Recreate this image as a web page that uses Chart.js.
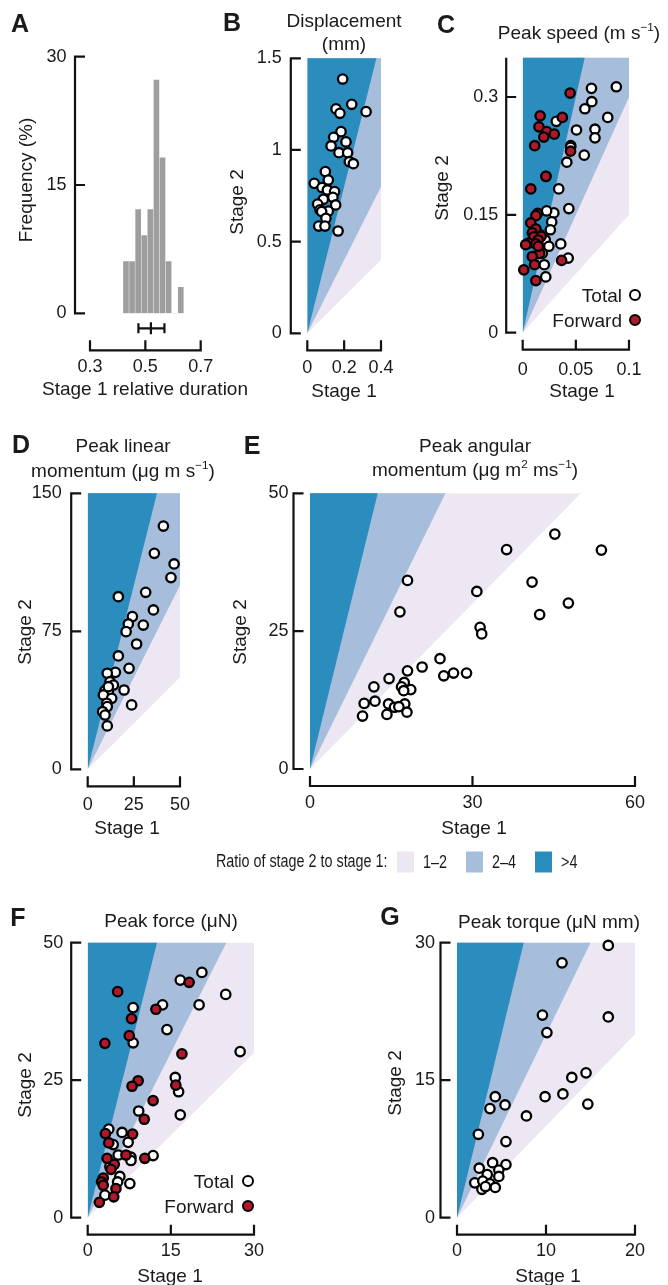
<!DOCTYPE html>
<html>
<head>
<meta charset="utf-8">
<script src="https://cdn.jsdelivr.net/npm/chart.js@4.4.1/dist/chart.umd.min.js"></script>
<style>
body { margin: 0; background: #fff; }
#fig { position: relative; width: 668px; height: 1285px; overflow: hidden; font-family: "Liberation Sans", Arial, sans-serif; color: #1a1a1a; }
#fig canvas { position: absolute; left: 0; top: 0; }
.t { position: absolute; transform: translate(-50%, -50%); white-space: nowrap; font-size: 19px; line-height: 1; }
.rot { width: 140px; height: 20px; line-height: 20px; text-align: center; transform: translate(-70px, -10px) rotate(-90deg); }
.r { position: absolute; transform: translate(-100%, -50%); white-space: nowrap; font-size: 19px; line-height: 1; }
.lt { position: absolute; transform: translate(-50%, -50%); font-weight: bold; font-size: 25px; line-height: 1; }
.dot { position: absolute; width: 8px; height: 8px; border: 2.3px solid #000; border-radius: 50%; transform: translate(-50%, -50%); }
.sw { position: absolute; width: 17px; height: 21px; transform: translateY(-50%); }
sup { font-size: 0.62em; line-height: 0; vertical-align: 0.6em; }
#ratio { position: absolute; left: 216px; top: 862px; transform: translateY(-50%) scaleX(0.82); transform-origin: left center; font-size: 17.5px; white-space: nowrap; line-height: 1; }
.lg { position: absolute; transform: translateY(-50%) scaleX(0.82); transform-origin: left center; font-size: 17.5px; white-space: nowrap; line-height: 1; }
</style>
</head>
<body>
<div id="fig">
  <canvas id="chA" width="668" height="1285"></canvas>
  <canvas id="chB" width="668" height="1285"></canvas>
  <canvas id="chC" width="668" height="1285"></canvas>
  <canvas id="chD" width="668" height="1285"></canvas>
  <canvas id="chE" width="668" height="1285"></canvas>
  <canvas id="chF" width="668" height="1285"></canvas>
  <canvas id="chG" width="668" height="1285"></canvas>

  <div class="lt" style="left:20px;top:23px">A</div>
  <div class="lt" style="left:232px;top:22px">B</div>
  <div class="lt" style="left:446px;top:24px">C</div>
  <div class="lt" style="left:21px;top:444px">D</div>
  <div class="lt" style="left:252px;top:445px">E</div>
  <div class="lt" style="left:18px;top:917px">F</div>
  <div class="lt" style="left:390px;top:916px">G</div>

  <div class="t" style="left:344px;top:20px">Displacement</div>
  <div class="t" style="left:344px;top:43px">(mm)</div>
  <div class="t" style="left:579px;top:32px">Peak speed (m s<sup>−1</sup>)</div>
  <div class="t" style="left:123px;top:445px">Peak linear</div>
  <div class="t" style="left:123px;top:470px">momentum (μg m s<sup>−1</sup>)</div>
  <div class="t" style="left:475px;top:445px">Peak angular</div>
  <div class="t" style="left:475px;top:469px">momentum (μg m<sup>2</sup> ms<sup>−1</sup>)</div>
  <div class="t" style="left:171px;top:920px">Peak force (μN)</div>
  <div class="t" style="left:549px;top:921px">Peak torque (μN mm)</div>

  <div class="t rot" style="left:26px;top:180px">Frequency (%)</div>
  <div class="t" style="left:145px;top:388px">Stage 1 relative duration</div>
  <div class="t rot" style="left:237px;top:202px">Stage 2</div>
  <div class="t" style="left:344px;top:390px">Stage 1</div>
  <div class="t rot" style="left:442px;top:188px">Stage 2</div>
  <div class="t" style="left:582px;top:390px">Stage 1</div>
  <div class="t rot" style="left:25px;top:632px">Stage 2</div>
  <div class="t" style="left:127px;top:827px">Stage 1</div>
  <div class="t rot" style="left:240px;top:632px">Stage 2</div>
  <div class="t" style="left:474px;top:827px">Stage 1</div>
  <div class="t rot" style="left:25px;top:1085px">Stage 2</div>
  <div class="t" style="left:170px;top:1275px">Stage 1</div>
  <div class="t rot" style="left:395px;top:1083px">Stage 2</div>
  <div class="t" style="left:548px;top:1275px">Stage 1</div>

  <div class="r" style="left:622px;top:295px">Total</div>
  <div class="dot" style="left:635px;top:295px;background:#fff"></div>
  <div class="r" style="left:622px;top:320px">Forward</div>
  <div class="dot" style="left:635px;top:320px;background:#b2182b"></div>
  <div class="r" style="left:234px;top:1181px">Total</div>
  <div class="dot" style="left:248px;top:1181px;background:#fff"></div>
  <div class="r" style="left:234px;top:1206px">Forward</div>
  <div class="dot" style="left:248px;top:1206px;background:#b2182b"></div>

  <div id="ratio">Ratio of stage 2 to stage 1:</div>
  <div class="sw" style="left:397px;top:862px;background:#ece7f2"></div>
  <div class="lg" style="left:423px;top:863px">1–2</div>
  <div class="sw" style="left:466px;top:862px;background:#a6bddb"></div>
  <div class="lg" style="left:492px;top:863px">2–4</div>
  <div class="sw" style="left:535px;top:862px;background:#2b8cbe"></div>
  <div class="lg" style="left:561px;top:863px">&gt;4</div>
</div>

<script>
const W = 668, H = 1285;
const ink = '#1a1a1a';
const family = '"Liberation Sans", Arial, sans-serif';
const bandColors = ['#ece7f2', '#a6bddb', '#2b8cbe'];
const red = '#b2182b';

// A: histogram of stage 1 relative duration
const durBins = [0.43, 0.452, 0.474, 0.496, 0.518, 0.54, 0.562, 0.584, 0.606, 0.628];
const durFreq = [6.06, 6.06, 12.12, 9.09, 12.12, 27.27, 18.18, 6.06, 0, 3.03];
const durMean = 0.52, durLow = 0.475, durHigh = 0.569;

// ratio bands (stage 2 / stage 1)
const bandsStd = [1, 2, 4];
const bandsSpeed = [1.5, 3, 6];

// B: displacement (mm)
const dispPts = [[0.192,1.387],[0.241,1.249],[0.319,1.209],[0.156,1.224],[0.177,1.2],[0.183,1.1],[0.143,1.069],[0.210,1.044],[0.129,1.022],[0.172,0.985],[0.219,0.985],[0.228,0.936],[0.250,0.925],[0.098,0.882],[0.114,0.836],[0.038,0.818],[0.080,0.795],[0.109,0.782],[0.148,0.773],[0.139,0.742],[0.087,0.731],[0.056,0.705],[0.154,0.7],[0.069,0.673],[0.114,0.667],[0.078,0.664],[0.101,0.627],[0.062,0.585],[0.096,0.585],[0.167,0.558]];

// C: peak speed
const speedTotal = [[0.0647,0.311],[0.0881,0.313],[0.065,0.294],[0.0585,0.285],[0.080,0.274],[0.0316,0.269],[0.0506,0.258],[0.068,0.259],[0.068,0.248],[0.0452,0.238],[0.0579,0.226],[0.0415,0.217],[0.0339,0.183],[0.022,0.199],[0.0434,0.158],[0.0293,0.1525],[0.0225,0.155],[0.0273,0.141],[0.026,0.131],[0.0212,0.118],[0.0246,0.110],[0.0358,0.113],[0.0184,0.101],[0.0428,0.095],[0.0203,0.0865],[0.0217,0.071],[0.0141,0.114],[0.016,0.125],[0.045,0.236]];
const speedForward = [[0.0446,0.305],[0.0164,0.276],[0.0373,0.274],[0.0153,0.262],[0.0226,0.256],[0.0297,0.2527],[0.0198,0.249],[0.0113,0.238],[0.045,0.231],[0.0218,0.199],[0.0076,0.183],[0.014,0.152],[0.0124,0.149],[0.0076,0.1397],[0.0124,0.132],[0.009,0.127],[0.0105,0.122],[0.0174,0.1226],[0.0146,0.118],[0.0056,0.114],[0.0028,0.112],[0.0124,0.113],[0.016,0.101],[0.009,0.097],[0.0366,0.092],[0.001,0.080],[0.0112,0.0865],[0.0124,0.0664],[0.0147,0.110]];

// D: peak linear momentum
const linMomPts = [[41.0,132.2],[36.1,117.4],[46.8,111.6],[45.1,104.2],[31.4,96.2],[16.6,93.8],[35.6,86.6],[24.2,83.0],[22.0,79.0],[30.1,78.4],[20.8,74.8],[26.5,68.1],[16.6,61.6],[15.0,52.7],[10.6,52.2],[22.4,54.9],[12.1,47.6],[13.9,45.8],[19.7,43.1],[9.4,42.8],[11.2,42.2],[8.5,40.4],[13.0,38.6],[23.8,35.0],[10.3,35.9],[10.6,34.1],[8.1,31.3],[9.4,29.5],[10.6,23.6],[11.2,44.9]];

// E: peak angular momentum
const angMomPts = [[45.2,42.6],[36.3,39.8],[53.8,39.7],[18.0,34.2],[41.0,33.9],[30.8,32.2],[47.7,30.1],[16.6,28.5],[42.4,28.0],[31.4,25.7],[31.7,24.5],[24.0,20.0],[20.7,18.5],[18.0,17.8],[24.7,16.9],[26.5,17.4],[28.9,17.4],[14.6,16.4],[17.4,15.7],[16.9,14.9],[18.6,14.4],[11.8,14.9],[17.3,14.2],[12.0,12.3],[10.0,11.9],[14.5,11.8],[17.5,11.8],[15.6,11.2],[16.4,11.3],[14.2,9.9],[17.9,10.3],[9.7,9.6]];

// F: peak force
const forceTotal = [[20.6,44.6],[16.7,43.2],[24.9,40.6],[8.2,38.2],[13.5,38.7],[20.1,38.7],[14.3,34.2],[8.2,31.8],[27.5,30.2],[15.8,25.5],[16.4,22.9],[16.7,18.7],[9.2,19.4],[11.8,11.3],[3.8,16.1],[6.2,15.5],[7.3,13.7],[4.6,13.3],[7.8,11.0],[7.8,10.4],[5.5,11.4],[7.6,6.2],[5.8,7.5],[5.4,6.5],[3.1,4.1],[4.0,9.3]];
const forceForward = [[18.3,42.8],[5.4,41.1],[12.3,37.9],[7.9,36.2],[7.5,33.1],[3.1,31.7],[17.0,29.8],[9.1,24.9],[8.0,23.9],[15.9,24.1],[11.8,21.3],[10.2,17.9],[3.2,15.3],[8.1,15.2],[3.8,13.6],[6.9,11.4],[10.3,10.8],[3.5,10.8],[4.8,9.7],[4.2,8.8],[2.8,7.2],[2.5,6.5],[2.8,5.9],[5.1,5.3],[4.7,3.8],[2.1,2.8]];

// G: peak torque
const torquePts = [[17.0,29.7],[11.8,27.8],[9.6,22.1],[17.0,21.9],[10.1,20.2],[14.5,15.8],[12.9,15.3],[4.3,13.2],[9.9,13.2],[11.9,13.5],[3.7,11.9],[5.4,12.3],[14.7,12.4],[7.8,11.1],[2.4,9.1],[5.5,8.3],[5.5,5.8],[4.0,6.0],[2.5,5.4],[4.7,5.2],[3.4,4.7],[4.7,4.5],[2.0,3.8],[2.9,4.0],[3.7,3.7],[4.3,3.3],[2.8,3.1],[3.2,3.4]];

// draws ratio wedges behind the points, detached axes with inward ticks in front
const panelDecor = {
  id: 'panelDecor',
  beforeDatasetsDraw(chart, args, o) {
    if (!o.bands) return;
    const {ctx, chartArea: a, scales: {x, y}} = chart;
    const xm = x.max, ym = y.max;
    const far = r => {
      const t = Math.max(10 * xm, 10 * ym / r);
      return [x.getPixelForValue(t), y.getPixelForValue(r * t)];
    };
    const org = [x.getPixelForValue(0), y.getPixelForValue(0)];
    const top = [x.getPixelForValue(0), y.getPixelForValue(10 * ym)];
    ctx.save();
    ctx.beginPath();
    ctx.rect(a.left, a.top, a.right - a.left, a.bottom - a.top);
    ctx.clip();
    o.bands.forEach((r, i) => {
      const p = far(r);
      ctx.fillStyle = bandColors[i];
      ctx.beginPath();
      ctx.moveTo(org[0], org[1]);
      ctx.lineTo(p[0], p[1]);
      ctx.lineTo(top[0], top[1]);
      ctx.closePath();
      ctx.fill();
    });
    ctx.restore();
  },
  afterDraw(chart, args, o) {
    const {ctx, chartArea: a, scales: {x, y}} = chart;
    const lw = 2.2, tl = 10;
    const ax = a.left - o.yOff, ay = a.bottom + o.xOff;
    ctx.save();
    ctx.strokeStyle = '#111';
    ctx.lineWidth = lw;
    ctx.beginPath();
    const yt = o.yTicks;
    const yb = y.getPixelForValue(yt[0]);
    const ytop = y.getPixelForValue(o.yTop != null ? o.yTop : yt[yt.length - 1]);
    ctx.moveTo(ax, yb + lw / 2);
    ctx.lineTo(ax, ytop - (o.yTop != null ? 0 : lw / 2));
    yt.forEach(v => {
      const p = y.getPixelForValue(v);
      ctx.moveTo(ax, p);
      ctx.lineTo(ax + tl, p);
    });
    const xt = o.xTicks;
    const xl = x.getPixelForValue(xt[0]), xr = x.getPixelForValue(xt[xt.length - 1]);
    ctx.moveTo(xl - lw / 2, ay);
    ctx.lineTo(xr + lw / 2, ay);
    xt.forEach(v => {
      const p = x.getPixelForValue(v);
      ctx.moveTo(p, ay);
      ctx.lineTo(p, ay - tl);
    });
    ctx.stroke();
    if (o.err) {
      const ey = a.bottom + o.err.dy;
      const p0 = x.getPixelForValue(o.err.low), p1 = x.getPixelForValue(o.err.high), pm = x.getPixelForValue(o.err.mean);
      ctx.beginPath();
      ctx.moveTo(p0, ey); ctx.lineTo(p1, ey);
      ctx.moveTo(p0, ey - 5); ctx.lineTo(p0, ey + 5);
      ctx.moveTo(p1, ey - 5); ctx.lineTo(p1, ey + 5);
      ctx.moveTo(pm, ey - 6); ctx.lineTo(pm, ey + 6);
      ctx.stroke();
    }
    ctx.restore();
  }
};

function pts(arr) { return arr.map(p => ({x: p[0], y: p[1]})); }

function scatterSet(arr, fill, order) {
  return {
    data: pts(arr), backgroundColor: fill, borderColor: '#000',
    pointRadius: 4.7, pointBorderWidth: 2.3, showLine: false, clip: false, order: order
  };
}

function makeChart(id, area, s) {
  const tickFont = {family: family, size: 18};
  return new Chart(document.getElementById(id), {
    type: s.type || 'scatter',
    data: {datasets: s.datasets},
    options: {
      responsive: false,
      animation: false,
      events: [],
      layout: {padding: {left: area.l - 70, top: area.t, right: W - area.r, bottom: H - area.b - 60}},
      plugins: {
        legend: {display: false},
        tooltip: {enabled: false},
        panelDecor: {
          bands: s.bands, yOff: s.yOff || 16.5, xOff: s.xOff || 17,
          yTicks: s.yTicks, xTicks: s.xTicks, yTop: s.yTop, err: s.err
        }
      },
      scales: {
        x: {
          type: 'linear', min: s.xMin || 0, max: s.xMax, offset: false,
          afterBuildTicks: sc => { sc.ticks = s.xTicks.map(v => ({value: v})); },
          afterFit: sc => { sc.height = 60; },
          grid: {display: false, drawTicks: false},
          border: {display: false},
          ticks: {padding: s.xPad, autoSkip: false, maxRotation: 0, color: ink, font: tickFont, callback: v => String(v)}
        },
        y: {
          type: 'linear', min: 0, max: s.yMax,
          afterBuildTicks: sc => { sc.ticks = s.yTicks.map(v => ({value: v})); },
          afterFit: sc => { sc.width = 70; },
          grid: {display: false, drawTicks: false},
          border: {display: false},
          ticks: {padding: s.yPad, autoSkip: false, color: ink, font: tickFont, callback: v => String(v)}
        }
      }
    },
    plugins: [panelDecor]
  });
}

// A
makeChart('chA', {l: 90, r: 200.7, t: 56.7, b: 313.3}, {
  type: 'bar',
  datasets: [{
    data: durBins.map((b, i) => ({x: b, y: durFreq[i]})),
    backgroundColor: '#9e9e9e', barThickness: 5, borderWidth: 0
  }],
  xMin: 0.3, xMax: 0.7, yMax: 30,
  xTicks: [0.3, 0.5, 0.7], yTicks: [0, 15, 30],
  xPad: 43, yPad: 23.5, yOff: 15, xOff: 37,
  err: {mean: durMean, low: durLow, high: durHigh, dy: 15}
});

// B
makeChart('chB', {l: 307.3, r: 381, t: 58.3, b: 333.3}, {
  datasets: [scatterSet(dispPts, '#fff', 0)],
  bands: bandsStd, xMax: 0.4, yMax: 1.5,
  xTicks: [0, 0.2, 0.4], yTicks: [0, 0.5, 1, 1.5],
  xPad: 24, yPad: 25.5
});

// C
makeChart('chC', {l: 522.7, r: 641, t: 57.7, b: 332.7}, {
  datasets: [scatterSet(speedForward, red, 0), scatterSet(speedTotal, '#fff', 1)],
  bands: bandsSpeed, xMax: 0.1, yMax: 0.35, yTop: 0.35,
  xTicks: [0, 0.05, 0.1], yTicks: [0, 0.15, 0.3],
  xPad: 26.5, yPad: 24.5
});

// D
makeChart('chD', {l: 87.7, r: 180, t: 493.3, b: 769.3}, {
  datasets: [scatterSet(linMomPts, '#fff', 0)],
  bands: bandsStd, xMax: 50, yMax: 150,
  xTicks: [0, 25, 50], yTicks: [0, 75, 150],
  xPad: 25, yPad: 26
});

// E
makeChart('chE', {l: 310, r: 641, t: 493.3, b: 769}, {
  datasets: [scatterSet(angMomPts, '#fff', 0)],
  bands: bandsStd, xMax: 60, yMax: 50,
  xTicks: [0, 30, 60], yTicks: [0, 25, 50],
  xPad: 23, yPad: 21.5
});

// F
makeChart('chF', {l: 87.7, r: 254, t: 942.7, b: 1217.7}, {
  datasets: [scatterSet(forceForward, red, 0), scatterSet(forceTotal, '#fff', 1)],
  bands: bandsStd, xMax: 30, yMax: 50,
  xTicks: [0, 15, 30], yTicks: [0, 25, 50],
  xPad: 23, yPad: 24.5
});

// G
makeChart('chG', {l: 457, r: 640.7, t: 942.7, b: 1217.7}, {
  datasets: [scatterSet(torquePts, '#fff', 0)],
  bands: bandsStd, xMax: 20, yMax: 30,
  xTicks: [0, 10, 20], yTicks: [0, 15, 30],
  xPad: 23, yPad: 22
});
</script>
</body>
</html>
